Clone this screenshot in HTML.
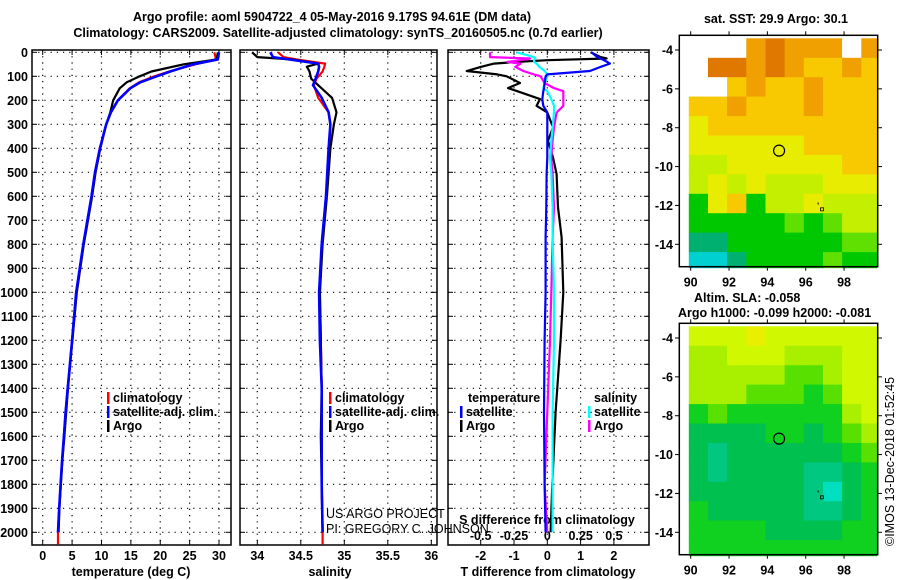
<!DOCTYPE html>
<html><head><meta charset="utf-8">
<style>
html,body{margin:0;padding:0;background:#fff;}
svg{display:block;font-family:"Liberation Sans",sans-serif;}
.b{font-weight:bold;font-size:12.5px;}
</style></head>
<body>
<svg id="c" width="900" height="580" viewBox="0 0 900 580" xmlns="http://www.w3.org/2000/svg">
<text x="332" y="21" text-anchor="middle" class="b" font-size="13.5">Argo profile: aoml 5904722_4 05-May-2016 9.179S 94.61E (DM data)</text>
<text x="338" y="37" text-anchor="middle" class="b" font-size="13.5">Climatology: CARS2009. Satellite-adjusted climatology: synTS_20160505.nc (0.7d earlier)</text>
</svg>
<script>
// ---------- data ----------
const depthT = [0,30,50,80,100,125,150,200,250,300,400,500,600,700,800,1000,1200,1400,1500,1600,1700,1800,1900,2000];
const tempClim = [29.2,29.5,26.0,21.5,19.0,16.4,14.8,12.8,11.6,10.8,9.7,8.9,8.3,7.6,6.9,5.7,5.0,4.25,3.9,3.6,3.3,3.05,2.8,2.6];
const tempSat  = [30.0,29.8,25.6,21.7,19.4,16.6,14.9,12.8,11.6,10.8,9.75,8.9,8.3,7.6,6.9,5.7,5.0,4.25,3.9,3.6,3.3,3.05,2.8,2.6];
const tempArgo = [29.8,29.6,24.0,18.5,16.5,14.3,13.1,12.0,11.5,10.8,9.8,9.0,8.4,7.7,7.0,5.8,5.05,4.3,4.0,3.7,3.35,3.1,2.85,2.7];
const depthS = [0,20,30,47,60,80,110,137,190,250,300,400,600,800,1000,1200,1400,1600,1800,2000];
const salClim = [34.24,34.30,34.45,34.78,34.77,34.75,34.68,34.65,34.70,34.82,34.84,34.83,34.79,34.74,34.72,34.73,34.74,34.74,34.74,34.75];
const salSat  = [34.15,34.18,34.37,34.70,34.71,34.70,34.67,34.64,34.74,34.82,34.84,34.82,34.79,34.74,34.71,34.72,34.74,34.74,34.74,34.75];
const salArgo = [33.94,34.00,34.41,34.70,34.57,34.60,34.62,34.70,34.86,34.91,34.88,34.84,34.80,34.75,34.72,34.73,34.74,34.73,34.74,34.75];
const depthD = [0,20,26,33,40,47,61,78,92,100,128,149,162,195,223,251,313,369,438,508,646,771,1000,1200,1500,1800,2000];
const tDiffArgo = [1.3,1.6,1.78,0.0,-0.9,-1.6,-2.0,-2.42,-1.5,-1.22,-0.82,-1.18,-0.9,-0.22,-0.32,0.0,0.17,0.02,0.17,0.28,0.32,0.43,0.48,0.40,0.25,0.15,0.1];
const tDiffSat  = [1.33,1.5,1.6,1.7,1.8,1.88,1.6,1.28,0.0,-0.05,-0.08,-0.1,-0.12,-0.15,-0.12,0.0,0.0,0.0,0.0,-0.02,-0.03,-0.05,-0.05,-0.08,-0.1,-0.08,-0.05];
const sDiffArgo = [-0.43,-0.43,-0.13,-0.2,-0.3,-0.2,-0.24,-0.18,-0.1,-0.05,-0.02,0.05,0.12,0.12,0.12,0.07,0.05,0.04,0.03,0.04,0.05,0.04,0.03,0.02,0.0,-0.02,0.0];
const sDiffSat  = [-0.23,-0.1,-0.09,-0.1,-0.1,-0.08,-0.06,-0.02,0.0,0.0,-0.02,-0.03,0.0,0.03,0.05,0.05,0.04,0.03,0.02,0.03,0.04,0.04,0.05,0.05,0.04,0.04,0.04];
const depthTicks = [0,100,200,300,400,500,600,700,800,900,1000,1100,1200,1300,1400,1500,1600,1700,1800,1900,2000];
const tempTicks = [0,5,10,15,20,25,30];
const salTicks = [34,34.5,35,35.5,36];
const tdTicks = [-2,-1,0,1,2];
const sdTicks = [-0.5,-0.25,0,0.25,0.5];
const lonTicks = [90,92,94,96,98];
const latTicks = [-4,-6,-8,-10,-12,-14];
const sstPalette = ['#ffffff','#e07800','#f0a000','#f8c800','#e8ec00','#c4f000','#60e000','#00c800','#00b070','#00d0d0'];
const sstGrid = [
[0,0,0,2,1,2,2,2,0,2],
[0,1,1,2,1,2,3,3,2,3],
[0,0,3,2,3,3,2,3,3,3],
[3,3,2,3,3,3,2,3,3,3],
[4,3,3,3,3,3,3,3,3,3],
[4,4,4,4,4,4,3,3,3,3],
[5,5,4,4,4,4,4,4,3,3],
[5,4,5,4,5,5,5,4,4,4],
[7,4,3,7,5,5,4,5,5,5],
[7,7,7,7,7,6,7,6,5,5],
[8,8,7,7,7,7,7,7,6,6],
[9,9,8,7,7,7,7,6,7,7]];
const slaPalette = ['#ffffff','#e8f000','#d0f800','#a8f000','#58e000','#10d020','#00c050','#00c880','#00e0c0'];
const slaGrid = [
[2,2,2,1,2,2,2,2,2,2],
[3,3,2,2,2,3,3,3,2,2],
[3,3,3,3,3,4,4,3,2,2],
[3,3,3,4,4,4,5,4,2,2],
[5,4,5,5,5,5,5,5,3,2],
[6,6,6,6,5,5,6,5,4,3],
[6,7,6,6,6,6,6,6,5,4],
[6,7,6,6,6,6,7,7,6,5],
[6,6,6,6,6,6,7,8,6,5],
[5,6,6,6,6,6,7,7,6,5],
[5,5,5,5,6,6,6,6,5,5],
[5,5,5,5,5,5,5,5,5,5]];
const argoLon = 94.61, argoLat = -9.18;

// ---------- helpers ----------
const NS='http://www.w3.org/2000/svg';
const svg=document.getElementById('c');
function mk(tag,attrs,parent){const e=document.createElementNS(NS,tag);for(const k in attrs)e.setAttribute(k,attrs[k]);(parent||svg).appendChild(e);return e;}
function txt(x,y,s,attrs){const e=mk('text',Object.assign({x:x,y:y,'font-weight':'bold','font-size':'12.5'},attrs||{}));e.textContent=s;return e;}
const yD = d => 52.3 + d*0.24;
const PT=50, PB=545;

function panel(x0,x1,name){
  const r=mk('rect',{x:x0,y:PT,width:x1-x0,height:PB-PT,fill:'none',stroke:'#000','stroke-width':1.5});
  
  
  depthTicks.forEach(d=>{
    const l=mk('line',{x1:x0,x2:x1,y1:yD(d),y2:yD(d),stroke:'#000','stroke-dasharray':'1.2 5','stroke-width':1.2});
    
    
    mk('line',{x1:x0,x2:x0+5,y1:yD(d),y2:yD(d),stroke:'#000'});
    mk('line',{x1:x1-5,x2:x1,y1:yD(d),y2:yD(d),stroke:'#000'});
  });
}
function vgrid(xs,name){
  xs.forEach(x=>{
    const l=mk('line',{x1:x,x2:x,y1:PT,y2:PB,stroke:'#000','stroke-dasharray':'1.2 5','stroke-width':1.2});
    
    
    mk('line',{x1:x,x2:x,y1:PB-5,y2:PB,stroke:'#000'});
    mk('line',{x1:x,x2:x,y1:PT,y2:PT+5,stroke:'#000'});
  });
}
function profile(vals,depths,xf,color,name,w){
  let pts=[];
  for(let i=0;i<vals.length;i++){
    pts.push(xf(vals[i]).toFixed(1)+','+yD(depths[i]).toFixed(1));
  }
  const p=mk('polyline',{points:pts.join(' '),fill:'none',stroke:color,'stroke-width':w||2.2,'stroke-linejoin':'round'});
  
  
  return p;
}

// ---------- panel 1 temperature ----------
const xT = t => 42.7 + t*5.877;
panel(32,231,'temperature-panel');
vgrid(tempTicks.map(xT),'temperature');
depthTicks.forEach(d=>{const e=txt(28,yD(d)+4.5,String(d),{'text-anchor':'end'});
  
  });
tempTicks.forEach(t=>{const e=txt(xT(t),560,String(t),{'text-anchor':'middle'});
  
  });
{const e=txt(131,576,'temperature (deg C)',{'text-anchor':'middle'});

}
profile(tempClim.concat([2.6]),depthT.concat([2050]),xT,'#ff0000','temperature-climatology-line');
profile(tempArgo,depthT,xT,'#000000','temperature-argo-line');
profile(tempSat,depthT,xT,'#0000ff','temperature-satellite-line',2.6);

// ---------- panel 2 salinity ----------
const xS = s => 257.3 + (s-34)*87.0;
panel(240,437,'salinity-panel');
vgrid(salTicks.map(xS),'salinity');
salTicks.forEach(s=>{const e=txt(xS(s),560,String(s),{'text-anchor':'middle'});
  
  });
{const e=txt(330,576,'salinity',{'text-anchor':'middle'});

}
profile(salClim.concat([34.75]),depthS.concat([2050]),xS,'#ff0000','salinity-climatology-line');
profile(salArgo,depthS,xS,'#000000','salinity-argo-line');
profile(salSat,depthS,xS,'#0000ff','salinity-satellite-line',2.6);

// ---------- panel 3 differences ----------
const xTD = t => 547.3 + t*33.3;
const xSD = s => 547.3 + s*133.3;
panel(448,649,'difference-panel');
vgrid(tdTicks.map(xTD),'difference');
tdTicks.forEach(t=>{const e=txt(xTD(t),560,String(t),{'text-anchor':'middle'});
  
  });
sdTicks.forEach(s=>{const e=txt(xSD(s),540,String(s),{'text-anchor':'middle'});
  
  });
{const e=txt(548,576,'T difference from climatology',{'text-anchor':'middle'});

}
{const e=txt(547,524,'S difference from climatology',{'text-anchor':'middle'});

}
profile(tDiffArgo,depthD,xTD,'#000000','t-diff-argo-line');
profile(sDiffArgo,depthD,xSD,'#ff00ff','s-diff-argo-line');
profile(sDiffSat,depthD,xSD,'#00ffff','s-diff-satellite-line');
profile(tDiffSat,depthD,xTD,'#0000ff','t-diff-satellite-line');

// ---------- legends ----------
function legItem(mx,y,color,label,name){
  const m=mk('rect',{x:mx,y:y-10,width:2.5,height:12,fill:color});
  
  
  const t=txt(mx+6,y,label);
  
  
}
legItem(107,402,'#ff0000','climatology','legend-temp-climatology');
legItem(107,416,'#0000ff','satellite-adj. clim.','legend-temp-satellite');
legItem(107,430,'#000000','Argo','legend-temp-argo');
legItem(329,402,'#ff0000','climatology','legend-sal-climatology');
legItem(329,416,'#0000ff','satellite-adj. clim.','legend-sal-satellite');
legItem(329,430,'#000000','Argo','legend-sal-argo');
{const t=txt(468,402,'temperature');}
{const t=txt(594,402,'salinity');}
legItem(460,416,'#0000ff','satellite','legend-tdiff-satellite');
legItem(460,430,'#000000','Argo','legend-tdiff-argo');
legItem(588,416,'#00ffff','satellite','legend-sdiff-satellite');
legItem(588,430,'#ff00ff','Argo','legend-sdiff-argo');
{const t=txt(326,518,'US ARGO PROJECT',{'font-weight':'normal','font-size':'12.5'});}
{const t=txt(326,533,'PI: GREGORY C. JOHNSON',{'font-weight':'normal','font-size':'12.5'});}

// ---------- maps ----------
const lonX = lon => 690.7 + (lon-90)*19.17;
function drawMap(top,grid,pal,name){
  const latY = lat => top + 14.7 + (-4-lat)*19.43;
  const lon0=89.9, lat0=-3.4;
  for(let r=0;r<grid.length;r++){
    for(let c=0;c<grid[r].length;c++){
      const la1=lat0-r, la2=Math.max(lat0-r-1,-15.2);
      const lo1=lon0+c, lo2=Math.min(lon0+c+1,99.7);
      const cell=mk('rect',{x:lonX(lo1).toFixed(1),y:latY(la1).toFixed(1),width:(lonX(lo2)-lonX(lo1)+0.6).toFixed(1),height:(latY(la2)-latY(la1)+0.6).toFixed(1),fill:pal[grid[r][c]]});
      
      
    }
  }
  const f=mk('rect',{x:679.3,y:top,width:198.4,height:231.4,fill:'none',stroke:'#000','stroke-width':1.5});
  
  
  lonTicks.forEach(l=>{
    mk('line',{x1:lonX(l),x2:lonX(l),y1:top,y2:top-4,stroke:'#000'});
    mk('line',{x1:lonX(l),x2:lonX(l),y1:top+231.4,y2:top+235.4,stroke:'#000'});
    const t=txt(lonX(l),top+251,String(l),{'text-anchor':'middle'});
    
    
  });
  latTicks.forEach(l=>{
    mk('line',{x1:679.3,x2:675,y1:latY(l),y2:latY(l),stroke:'#000'});
    mk('line',{x1:877.7,x2:882,y1:latY(l),y2:latY(l),stroke:'#000'});
    const t=txt(673,latY(l)+4.5,String(l),{'text-anchor':'end'});
    
    
  });
  const c=mk('circle',{cx:lonX(argoLon),cy:latY(argoLat),r:5.5,fill:'none',stroke:'#000','stroke-width':1.2});
  
  
  mk('rect',{x:lonX(96.85)-1.5,y:latY(-12.2)-1.5,width:3,height:3,fill:'none',stroke:'#000','stroke-width':0.8});
  mk('rect',{x:lonX(96.62),y:latY(-11.85),width:1,height:2,fill:'#000'});
}
drawMap(35.3,sstGrid,sstPalette,'sst-map');
drawMap(323.3,slaGrid,slaPalette,'sla-map');
{const t=txt(776,23,'sat. SST: 29.9 Argo: 30.1',{'text-anchor':'middle'});}
{const t=txt(694,302,'Altim. SLA: -0.058');}
{const t=txt(678,317,'Argo h1000: -0.099 h2000: -0.081');}
{const t=txt(0,0,'©IMOS 13-Dec-2018 01:52:45',{'font-weight':'normal','font-size':'12.5',transform:'translate(894,546) rotate(-90)'});}
</script>
</body></html>
